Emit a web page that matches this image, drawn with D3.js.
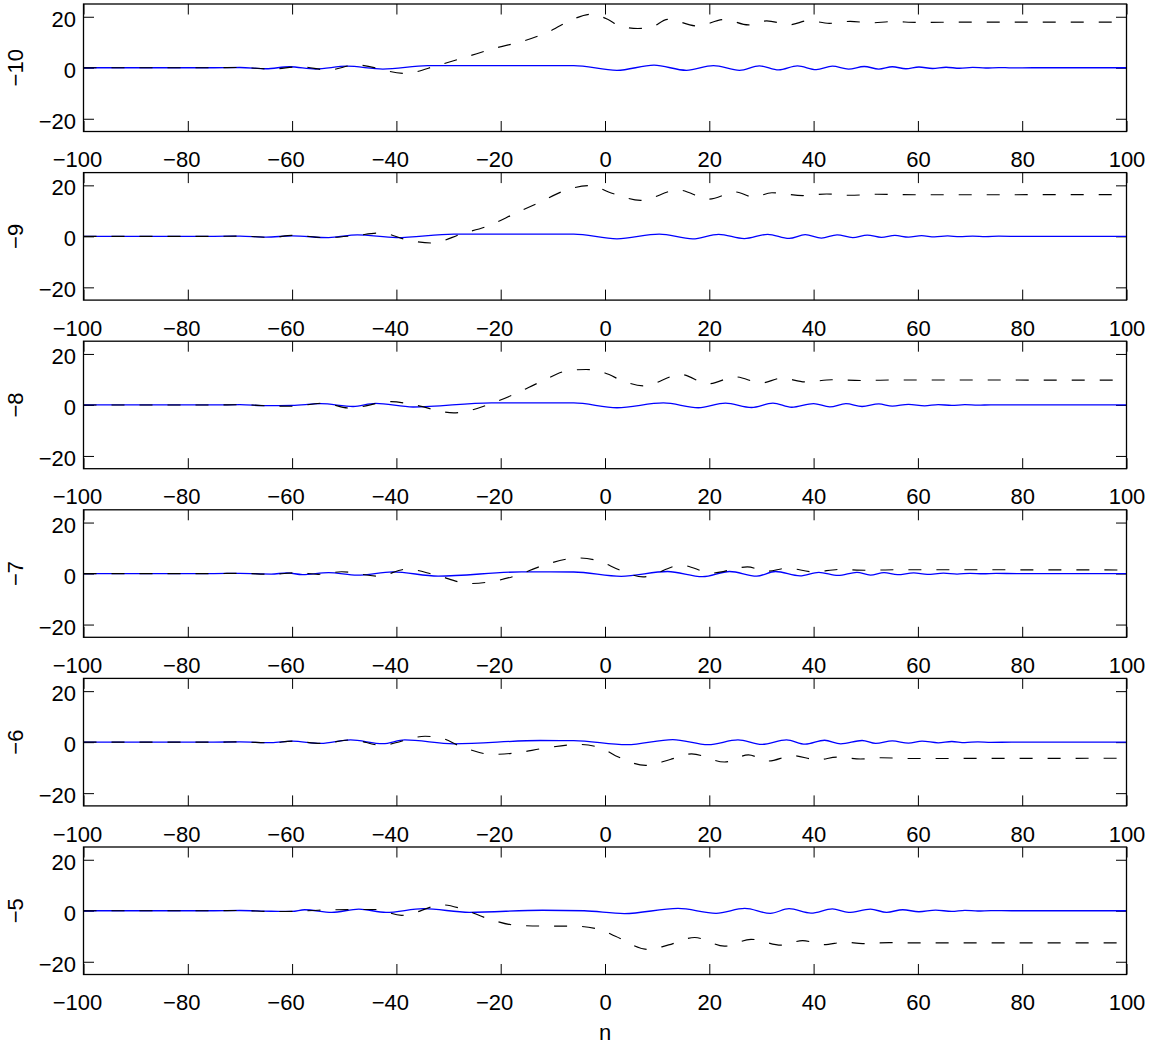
<!DOCTYPE html>
<html>
<head>
<meta charset="utf-8">
<script src="https://cdn.jsdelivr.net/npm/d3@7"></script>
<style>
  body { margin: 0; background: #fff; }
  svg text { font-family: "Liberation Sans", Arial, Helvetica, sans-serif; }
</style>
</head>
<body>
<div id="chart"></div>
<script>
// tick values and panel labels
const xTicks = [-100, -80, -60, -40, -20, 0, 20, 40, 60, 80, 100];
const yTicks = [-20, 0, 20];
const panelLabels = ['\u221210', '\u22129', '\u22128', '\u22127', '\u22126', '\u22125'];

// [n, value] (solid blue / dashed black)
const blue10 = [[-100,0],[-75,0],[-70,0.1],[-65,-0.4],[-60.5,0.4],[-55.5,-0.5],[-49.5,0.6],[-42.6,-0.5],[-34,0.8],[-20,0.8],[-6,0.85],[2.3,-1.0],[9.4,1.0],[15.6,-1.0],[20.8,0.85],[25.8,-1.0],[29.6,0.75],[33.3,-0.85],[36.9,0.7],[40.5,-0.75],[43.6,0.6],[46.7,-0.55],[49.7,0.5],[52.5,-0.5],[55.1,0.4],[57.7,-0.4],[60.2,0.3],[62.8,-0.3],[65.4,0.2],[68,-0.2],[70.5,0.15],[73,-0.1],[75.5,0.08],[78,-0.05],[82,0],[100,0]];
const dash10 = [[-100,0],[-75,0],[-70,0.1],[-64,-0.5],[-58.5,0.4],[-53,-0.9],[-47.8,1.1],[-38.4,-2.2],[-32,1.0],[-27,4.0],[-20.7,7.9],[-15.6,10.5],[-10.4,14.5],[-6.2,19.0],[-2.6,21.0],[0.5,19.0],[3,16.2],[6.3,15.4],[8.8,15.8],[12,19.0],[17.7,16.4],[22.9,18.9],[27.5,16.8],[31,18.4],[35.5,16.9],[39,18.5],[43,17.4],[47,18.2],[51,17.6],[55,18.1],[60,17.8],[70,17.9],[100,17.9]];

const blue9 = [[-100,0],[-75,0],[-70,0.1],[-65,-0.3],[-60,0.2],[-53,-0.5],[-47.5,0.6],[-40,-0.5],[-29,0.9],[-6,0.9],[2.3,-1.0],[10.4,0.9],[16.8,-1.0],[21.8,0.8],[26.7,-0.9],[31.2,0.8],[35.3,-0.8],[38.4,0.65],[41.5,-0.7],[44.5,0.6],[47.5,-0.5],[50.3,0.5],[53,-0.4],[55.6,0.35],[58.2,-0.3],[60.7,0.25],[63.2,-0.2],[65.7,0.15],[68,-0.12],[70.5,0.1],[73,-0.08],[75.5,0.05],[80,0],[100,0]];
const dash9 = [[-100,0],[-75,0],[-70,0.1],[-64,-0.4],[-60,0.4],[-53.5,-0.5],[-48,0.3],[-43,1.3],[-37.5,-1.6],[-33.2,-2.6],[-27.3,1.1],[-22.3,4.2],[-17.4,8.8],[-12.5,13.4],[-7.2,18.3],[-3.1,19.9],[1.5,16.8],[6.8,14.1],[14,18.2],[20,14.6],[25,17.4],[28.5,15.4],[32,17.1],[38,16.0],[42.5,16.6],[47,16.1],[52,16.5],[60,16.3],[100,16.4]];

const blue8 = [[-100,0],[-75,0],[-70,0.1],[-65,-0.3],[-60,-0.2],[-54.5,0.5],[-48.3,-0.6],[-44,0.6],[-36.8,-0.8],[-21.8,0.8],[-6,0.8],[2.3,-1.1],[11.2,0.8],[17.9,-1.1],[23.1,0.7],[28.1,-1.0],[32.2,0.7],[35.8,-0.9],[40,0.55],[43.1,-0.75],[46.2,0.5],[49.3,-0.6],[52.5,0.4],[55.1,-0.45],[58.2,0.25],[61.3,-0.35],[63.9,0.15],[66.5,-0.2],[69,0.1],[71.5,-0.1],[74,0.06],[78,0],[100,0]];
const dash8 = [[-100,0],[-75,0],[-70,0.1],[-64,-0.4],[-60,-0.5],[-54,0.7],[-49,-1.2],[-41,1.3],[-36.8,0.1],[-29,-3.1],[-21.5,0.8],[-17.4,4.2],[-12.2,9.2],[-7,13.5],[-3.6,13.9],[0,12.5],[3.7,9.2],[7.3,7.5],[14.6,11.9],[19.8,8.3],[25,11.0],[30,8.6],[33.8,10.5],[38.7,9.0],[43.5,9.9],[49,9.6],[55,9.8],[100,9.7]];

const blue7 = [[-100,0],[-75,0],[-70,0.1],[-64,-0.2],[-61,0.25],[-58,-0.4],[-53,0.4],[-47.5,-0.65],[-40.7,0.65],[-32,-1.0],[-16,0.65],[-6,0.6],[3.1,-1.1],[12,0.8],[18.7,-1.2],[23.9,0.8],[29.1,-1.0],[32.7,0.8],[37.4,-0.9],[41,0.5],[44.7,-0.75],[48.3,0.5],[50.9,-0.6],[53.5,0.35],[56.1,-0.45],[59.2,0.25],[61.8,-0.35],[64.9,0.15],[67.5,-0.2],[70,0.1],[72.5,-0.08],[75,0.05],[79,0],[100,0]];
const dash7 = [[-100,0],[-75,0],[-70,0.1],[-64,-0.3],[-59,0.35],[-55,-0.3],[-50.5,0.7],[-43.5,-1.0],[-38,1.7],[-32.6,-0.5],[-25.9,-3.9],[-17,-0.8],[-12,3.1],[-5.2,6.1],[-1,4.8],[2.7,1.5],[7.3,-1.3],[14.6,3.3],[20.5,0.2],[27.3,2.6],[31,0.9],[35,2.1],[40,0.65],[45,1.6],[50,1.3],[56,1.5],[100,1.4]];

const blue6 = [[-100,0],[-75,0],[-70,0.1],[-64,-0.2],[-60,0.4],[-54.5,-0.5],[-48.8,0.9],[-42.6,-0.6],[-38.4,0.9],[-29,-0.65],[-12.4,0.65],[-6,0.6],[4.2,-1.0],[13,1.0],[19.8,-1.0],[25.5,0.9],[30.1,-0.9],[34.8,0.9],[38.4,-0.8],[42.1,0.75],[45.2,-0.65],[49.3,0.65],[51.9,-0.5],[55.1,0.5],[58.2,-0.4],[60.8,0.4],[63.9,-0.25],[66.5,0.25],[69,-0.15],[71.5,0.1],[74,-0.06],[78,0],[100,0]];
const dash6 = [[-100,0],[-75,0],[-70,0.1],[-64,-0.3],[-60,0.4],[-54.5,-0.5],[-48.5,0.9],[-43,-1.2],[-34.5,2.3],[-31.6,1.7],[-27.5,-1.8],[-21.5,-4.8],[-17,-4.2],[-11.7,-2.4],[-5,-0.9],[-1,-2.1],[2,-5.3],[7.8,-9.1],[12.5,-6.8],[16.6,-4.6],[22.9,-7.8],[27.5,-5.0],[31.3,-7.4],[36,-5.3],[40.8,-6.9],[44.5,-5.9],[49,-6.6],[53,-6.1],[58,-6.4],[100,-6.3]];

const blue5 = [[-100,0],[-75,0],[-70,0.1],[-64,-0.2],[-60,-0.25],[-57.6,0.4],[-52.4,-0.65],[-47.2,0.65],[-42,-0.65],[-34.8,0.8],[-26,-0.6],[-12,0.2],[-4,0.0],[3.7,-1.1],[14,0.9],[21.3,-1.0],[26.8,0.9],[31.7,-1.0],[35.3,0.8],[39.5,-0.9],[43.6,0.7],[46.7,-0.65],[50.9,0.6],[54,-0.6],[57.1,0.4],[60.2,-0.4],[63.4,0.25],[66.5,-0.25],[69,0.15],[71.5,-0.1],[74,0.06],[78,0],[100,0]];
const dash5 = [[-100,0],[-75,0],[-70,0.1],[-64,-0.3],[-60,-0.25],[-55,0.2],[-49,0.45],[-44,0.5],[-39,-1.8],[-31.1,2.3],[-27.5,0.8],[-22.3,-3.2],[-17,-5.7],[-11.7,-6.0],[-6.5,-6.0],[-1.2,-7.2],[2,-10.0],[8.3,-15.2],[12.2,-13.4],[17.2,-10.5],[22.9,-13.9],[28,-11.2],[33.8,-13.5],[37.9,-11.7],[42,-13.3],[46,-12.3],[49.4,-12.9],[54.5,-12.5],[60,-12.6],[100,-12.6]];

const blueSeries = [blue10, blue9, blue8, blue7, blue6, blue5];
const dashSeries = [dash10, dash9, dash8, dash7, dash6, dash5];

const width = 1157, height = 1047;
const plotLeft = 83.5, plotRight = 1126.5;
const firstTop = 4, panelH = 127.5, panelStep = 168.6;
const tickLen = 10.5;
const fontSize = '22px';

const svg = d3.select('#chart').append('svg')
    .attr('width', width)
    .attr('height', height);

const x = d3.scaleLinear().domain([-100, 100]).range([plotLeft, plotRight]);

function styleAxis(g) {
    g.select('.domain').remove();
    g.selectAll('.tick line').attr('stroke', '#000').attr('stroke-width', 1);
    g.selectAll('.tick text').attr('fill', '#000').style('font-size', fontSize);
}

panelLabels.forEach((label, i) => {
    const top = firstTop + i * panelStep;
    const y = d3.scaleLinear().domain([-25, 25]).range([top + panelH, top]);
    const panel = svg.append('g');

    const line = d3.line()
        .x(d => x(d[0]))
        .y(d => y(d[1]))
        .curve(d3.curveMonotoneX);

    // Bottom axis with labels
    panel.append('g')
        .attr('transform', `translate(0,${top + panelH})`)
        .call(d3.axisBottom(x).tickValues(xTicks).tickSizeInner(-tickLen).tickSizeOuter(0).tickPadding(20))
        .call(styleAxis)
        .selectAll('.tick text')
        .attr('dx', d => d < 0 ? '-0.3em' : 0);

    // Top axis ticks
    panel.append('g')
        .attr('transform', `translate(0,${top})`)
        .call(d3.axisTop(x).tickValues(xTicks).tickSizeInner(-tickLen).tickSizeOuter(0).tickFormat(''))
        .call(styleAxis);

    // Left axis with labels
    panel.append('g')
        .attr('transform', `translate(${plotLeft},0)`)
        .call(d3.axisLeft(y).tickValues(yTicks).tickSizeInner(-tickLen).tickSizeOuter(0).tickPadding(7.5))
        .call(styleAxis)
        .selectAll('.tick text')
        .attr('dy', '0.43em');

    // Right axis ticks
    panel.append('g')
        .attr('transform', `translate(${plotRight},0)`)
        .call(d3.axisRight(y).tickValues(yTicks).tickSizeInner(-tickLen).tickSizeOuter(0).tickFormat(''))
        .call(styleAxis);

    // Series
    panel.append('path')
        .datum(blueSeries[i])
        .attr('d', line)
        .attr('fill', 'none')
        .attr('stroke', '#0000ff')
        .attr('stroke-width', 1.3);

    panel.append('path')
        .datum(dashSeries[i])
        .attr('d', line)
        .attr('fill', 'none')
        .attr('stroke', '#000')
        .attr('stroke-width', 1.15)
        .attr('stroke-dasharray', '13,15');

    // Box
    panel.append('rect')
        .attr('x', plotLeft)
        .attr('y', top)
        .attr('width', plotRight - plotLeft)
        .attr('height', panelH)
        .attr('fill', 'none')
        .attr('stroke', '#000')
        .attr('stroke-width', 1.3);

    // Y label
    panel.append('text')
        .attr('transform', `translate(23.3,${top + panelH / 2}) rotate(-90)`)
        .attr('text-anchor', 'middle')
        .style('font-size', fontSize)
        .text(label);
});

// X label
svg.append('text')
    .attr('x', x(0))
    .attr('y', 1040)
    .attr('text-anchor', 'middle')
    .style('font-size', fontSize)
    .text('n');
</script>
</body>
</html>
